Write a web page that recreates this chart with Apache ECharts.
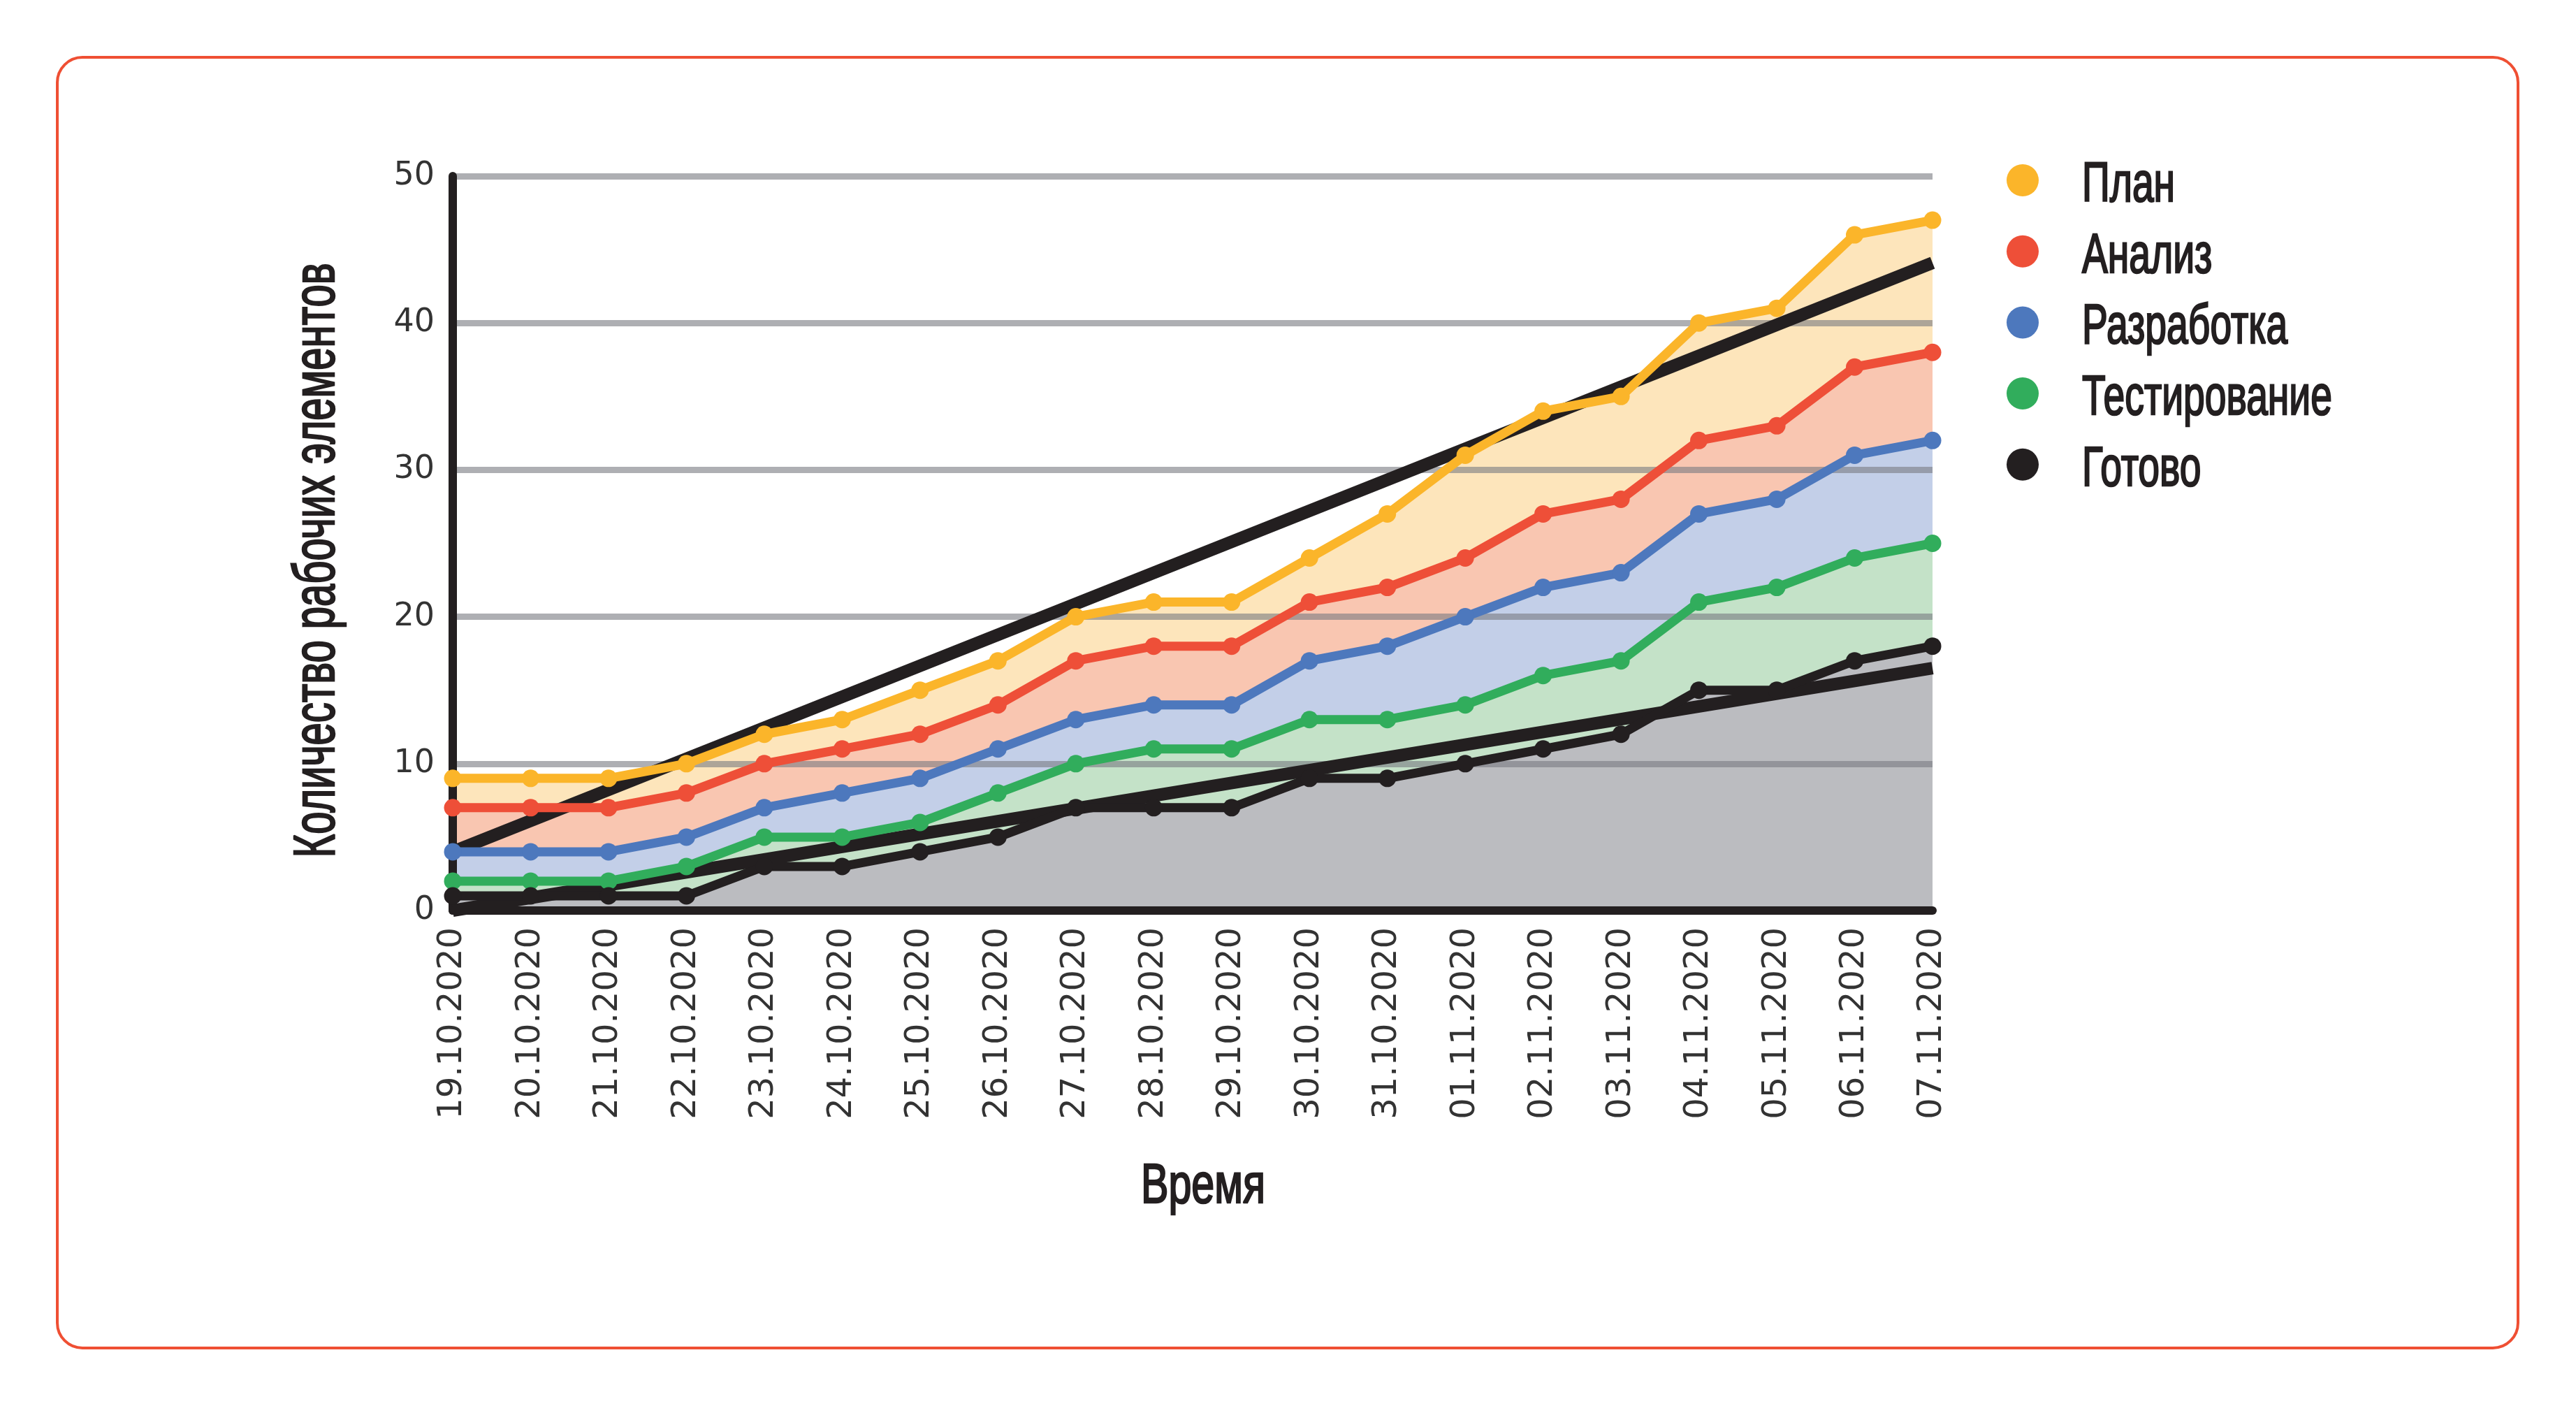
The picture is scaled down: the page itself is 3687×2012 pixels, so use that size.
<!DOCTYPE html>
<html>
<head>
<meta charset="utf-8">
<title>Накопительная диаграмма потока</title>
<script src="https://cdn.jsdelivr.net/npm/echarts@6/dist/echarts.min.js"></script>
<style>
html, body { margin: 0; padding: 0; background: #fff; }
#chart { width: 3687px; height: 2012px; }
</style>
</head>
<body>
<div id="chart"></div>
<script>
// даты по оси X
const dates = ['19.10.2020', '20.10.2020', '21.10.2020', '22.10.2020', '23.10.2020',
  '24.10.2020', '25.10.2020', '26.10.2020', '27.10.2020', '28.10.2020', '29.10.2020',
  '30.10.2020', '31.10.2020', '01.11.2020', '02.11.2020', '03.11.2020', '04.11.2020',
  '05.11.2020', '06.11.2020', '07.11.2020']

// накопленные значения по этапам
const plan = [9, 9, 9, 10, 12, 13, 15, 17, 20, 21, 21, 24, 27, 31, 34, 35, 40, 41, 46, 47]
const analysis = [7, 7, 7, 8, 10, 11, 12, 14, 17, 18, 18, 21, 22, 24, 27, 28, 32, 33, 37, 38]
const development = [4, 4, 4, 5, 7, 8, 9, 11, 13, 14, 14, 17, 18, 20, 22, 23, 27, 28, 31, 32]
const testing = [2, 2, 2, 3, 5, 5, 6, 8, 10, 11, 11, 13, 13, 14, 16, 17, 21, 22, 24, 25]
const done = [1, 1, 1, 1, 3, 3, 4, 5, 7, 7, 7, 9, 9, 10, 11, 12, 15, 15, 17, 18]

// линии тренда: только начало и конец
const trendPlan = [4, null, null, null, null, null, null, null, null, null,
  null, null, null, null, null, null, null, null, null, 44.1]
const trendDone = [0, null, null, null, null, null, null, null, null, null,
  null, null, null, null, null, null, null, null, null, 16.5]

const yTicks = [0, 10, 20, 30, 40, 50]

const stages = ['План', 'Анализ', 'Разработка', 'Тестирование', 'Готово']
const stageData = [plan, analysis, development, testing, done]
const lineColors = ['#fbb52a', '#ee4f38', '#4d78bd', '#31ad5c', '#231f20']
const fillColors = ['#fde5bb', '#f9c6b1', '#c3cfe8', '#c4e2c8', '#bbbcc0']

const textColor = '#231f20'
// узкого шрифта нет, поэтому подписи сжимаются по горизонтали
const condFont = '"Liberation Sans", sans-serif'

function condText (text, x, y, size, sx, align, rotation) {
  return {
    type: 'text',
    x: x,
    y: y,
    scaleX: sx,
    rotation: rotation || 0,
    silent: true,
    style: {
      text: text,
      fontFamily: condFont,
      fontSize: size,
      fill: textColor,
      stroke: textColor,
      lineWidth: 2.5,
      align: align,
      verticalAlign: 'middle'
    }
  }
}

function areaSeries (i) {
  return {
    name: stages[i] + ' (область)',
    type: 'line',
    data: stageData[i],
    z: 1,
    silent: true,
    symbol: 'none',
    lineStyle: { width: 0 },
    areaStyle: { color: fillColors[i], opacity: 1 }
  }
}

function lineSeries (i) {
  return {
    name: stages[i],
    type: 'line',
    data: stageData[i],
    z: 4,
    symbol: 'circle',
    symbolSize: 25,
    showAllSymbol: true,
    itemStyle: { color: lineColors[i] },
    lineStyle: { color: lineColors[i], width: 13 }
  }
}

function trendSeries (name, data) {
  return {
    name: name,
    type: 'line',
    data: data,
    z: 3,
    connectNulls: true,
    symbol: 'none',
    lineStyle: { color: textColor, width: 18 }
  }
}

let series = []
stages.forEach(function (s, i) { series.push(areaSeries(i)) })
series.push(trendSeries('Тренд план', trendPlan))
series.push(trendSeries('Тренд готово', trendDone))
stages.forEach(function (s, i) { series.push(lineSeries(i)) })

// подписи легенды
let legendLabels = stages.map(function (s, i) {
  return condText(s, 2980, 266 + i * 101.7, 80, 0.69, 'left')
})

let option = {
  animation: false,
  backgroundColor: '#fff',
  graphic: [{
    type: 'rect',
    silent: true,
    shape: { x: 82, y: 82, width: 3522, height: 1847, r: 36 },
    style: { fill: 'none', stroke: '#ef4f33', lineWidth: 4 }
  },
  condText('Количество рабочих элементов', 455, 802, 84, 0.69, 'center', Math.PI / 2),
  condText('Время', 1722, 1699, 80, 0.74, 'center')
  ].concat(legendLabels),
  grid: { left: 648, right: 921, top: 252, bottom: 709 },
  legend: {
    orient: 'vertical',
    left: 2867,
    top: 230,
    icon: 'circle',
    itemWidth: 46,
    itemHeight: 46,
    itemGap: 55.7,
    selectedMode: false,
    data: stages,
    formatter: function () { return '' },
    textStyle: { fontSize: 10 }
  },
  xAxis: {
    type: 'category',
    data: dates,
    boundaryGap: false,
    z: 5,
    axisLine: { lineStyle: { color: textColor, width: 12 } },
    axisTick: { show: false },
    axisLabel: { rotate: 90, margin: 24, fontFamily: 'DejaVu Sans', fontSize: 48, color: '#333' }
  },
  yAxis: {
    type: 'value',
    min: yTicks[0],
    max: yTicks[yTicks.length - 1],
    interval: yTicks[1] - yTicks[0],
    z: 2,
    axisLine: { show: true, lineStyle: { color: textColor, width: 12 } },
    axisTick: { show: false },
    axisLabel: { margin: 26, fontFamily: 'DejaVu Sans', fontSize: 46, color: '#333' },
    splitLine: { lineStyle: { color: 'rgba(120, 122, 128, 0.6)', width: 9 } }
  },
  series: series
}

let myChart = echarts.init(document.getElementById('chart'))
myChart.setOption(option)
window.addEventListener('resize', function () {
  myChart.resize()
})
</script>
</body>
</html>
